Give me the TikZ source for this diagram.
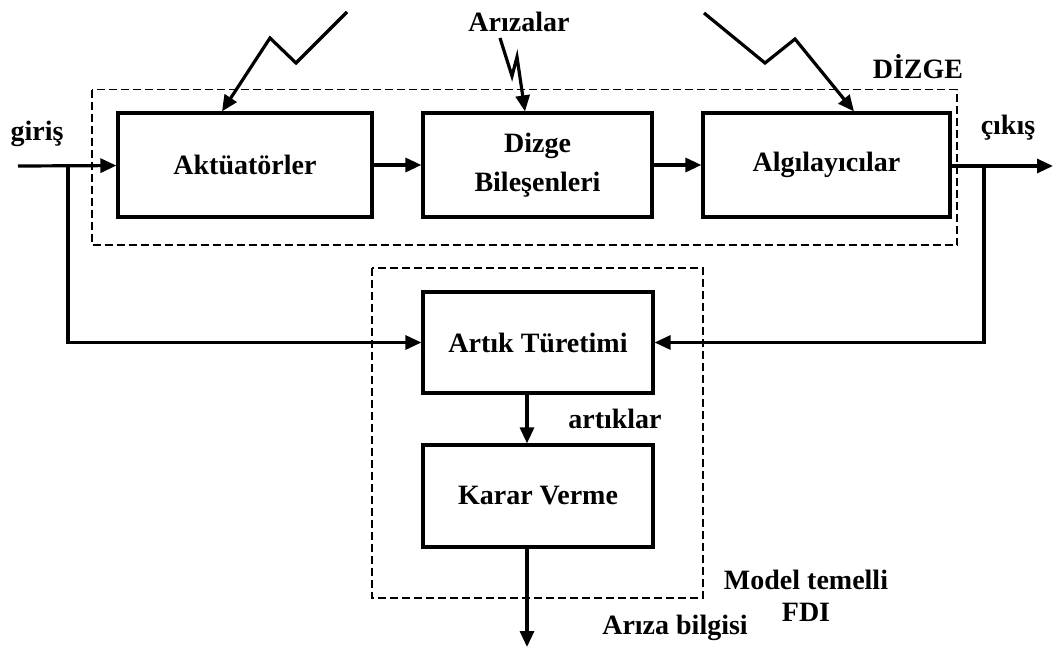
\documentclass[tikz,border=0pt]{standalone}
\usepackage{fontspec}
\setmainfont{Liberation Serif}
\usetikzlibrary{arrows.meta}
\begin{document}
\begin{tikzpicture}[x=.5pt,y=-.5pt,
every node/.style={font=\fontsize{14}{19.5}\selectfont\bfseries},
blok/.style={draw, line width=1.6pt, align=center, inner sep=0pt},
ok/.style={-{Triangle[length=8pt,width=7pt]}, line width=1.6pt},
kesik/.style={line width=.8pt, dash pattern=on 4pt off 2pt}]
\useasboundingbox (0,0) rectangle (1055,653);

\node (akt) at (245,165) [blok, minimum width=127pt, minimum height=52pt] {Aktüatörler};
\node (dzg) at (537.5,165) [blok, minimum width=114.5pt, minimum height=52pt] {Dizge\\Bileşenleri};
\node (alg) at (826.5,165) [blok, minimum width=123.5pt, minimum height=52pt] {Algılayıcılar};
\node (art) at (538,342.5) [blok, minimum width=115pt, minimum height=50.5pt] {Artık Türetimi};
\node (krr) at (538,496) [blok, minimum width=115pt, minimum height=51pt] {Karar Verme};

\node (giris) at (37,134) {giriş};
\node (cikis) at (1008,128) {çıkış};
\node (dizge) at (918,67) {DİZGE};
\node (ariza) at (519,22) {Arızalar};
\node (artik) at (615,419) {artıklar};
\node (bilgi) at (675,628) {Arıza bilgisi};
\node (model) at (806,580) {Model temelli};
\node (fdi) at (806,612) {FDI};

\draw[kesik] (92,89.5) rectangle (957,245);
\draw[kesik] (372,268) rectangle (703,598);

\coordinate (in) at (18,166);
\coordinate (inb) at (68,166);
\coordinate (out) at (1053,166);
\coordinate (outb) at (984,166);
\coordinate (son) at (527,647);
\coordinate (f1) at (347,12);
\coordinate (f2) at (500,38);
\coordinate (f3) at (704,13);

\draw[ok] (in) -- (akt);
\draw[ok] (akt) -- (dzg);
\draw[ok] (dzg) -- (alg);
\draw[ok] (alg.east |- out) -- (out);
\draw[ok] (inb) |- (art);
\draw[ok] (outb) |- (art);
\draw[ok] ([xshift=-5.5pt]art.south) -- ([xshift=-5.5pt]krr.north);
\draw[ok] ([xshift=-5.5pt]krr.south) -- (son);

% arizalar
\draw[ok] (f1) -- (296,63) -- (270,38) -- ([xshift=-11.5pt]akt.north);
\draw[ok] (f2) -- (512,76) -- (517,57) -- ([xshift=-6.25pt]dzg.north);
\draw[ok] (f3) -- (765,63) -- (795,39) -- ([xshift=13.75pt]alg.north);
\end{tikzpicture}
\end{document}
